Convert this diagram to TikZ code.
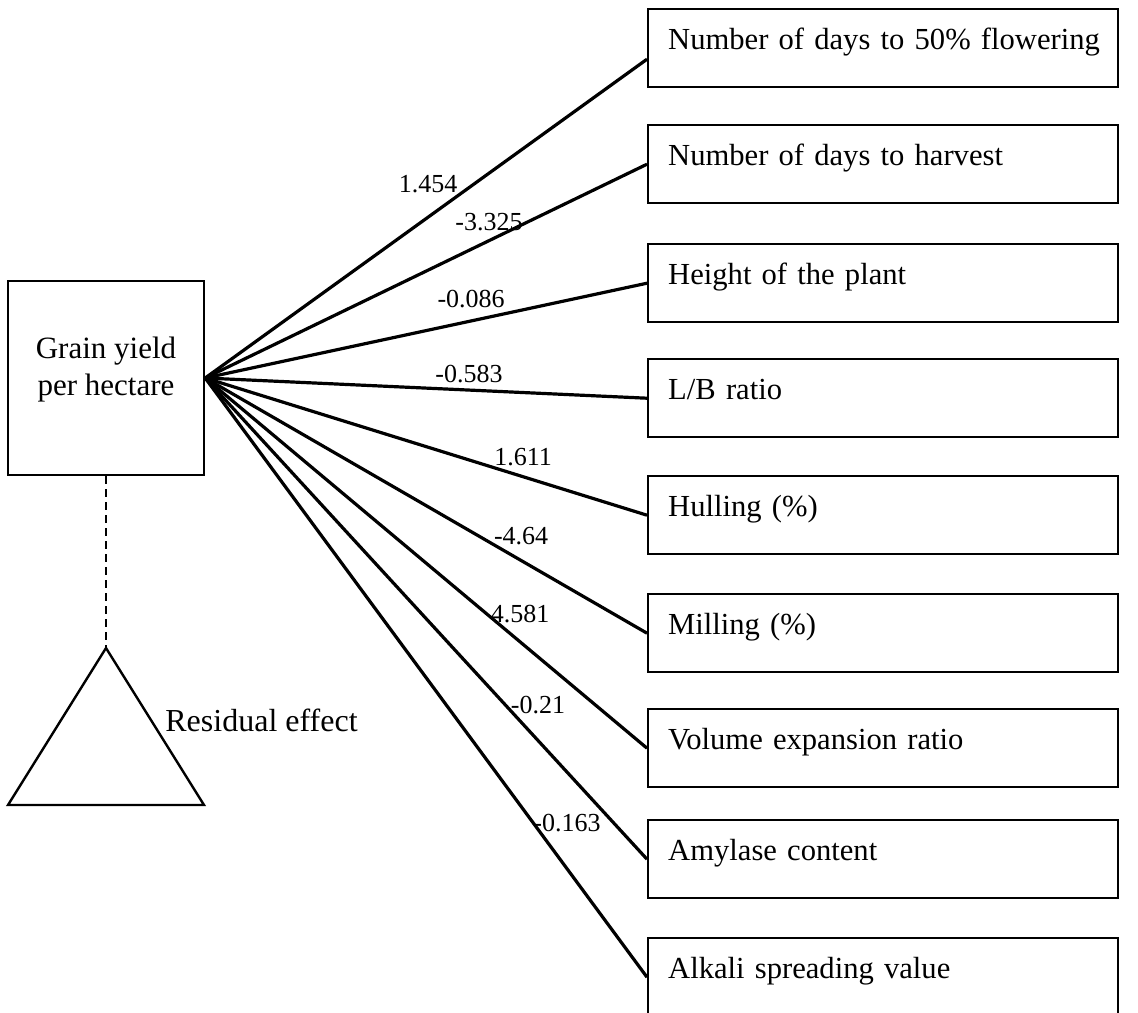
\documentclass[tikz,border=0pt]{standalone}
\usepackage{fontspec}
\setmainfont{Liberation Serif}
\begin{document}
\begin{tikzpicture}[x=0.5pt,y=-0.5pt,
  rbox/.style={draw, line width=1.2pt, anchor=north west, minimum height=39pt,
    text width=215pt, align=left, inner xsep=10pt, inner ysep=0pt,
    text height=10pt, text depth=9pt, font=\fontsize{15.3}{18.5}\selectfont},
  conn/.style={line width=1.6pt},
  lbl/.style={inner sep=0pt, font=\fontsize{13}{15}\selectfont}
]
\useasboundingbox (0,0) rectangle (1138,1012);
% left box
\node[draw, line width=1.2pt, minimum width=98pt, minimum height=97pt, inner sep=0pt,
  align=center, text height=20.5pt, text depth=3.5pt, font=\fontsize{15.5}{18.5}\selectfont]
  (g) at (106,378) {Grain yield\\per hectare};
% right boxes
\node[rbox] (b1) at (647,8) {\mbox{Number of days to 50\% flowering}};
\node[rbox] (b2) at (647,124) {\mbox{Number of days to harvest}};
\node[rbox] (b3) at (647,243) {\mbox{Height of the plant}};
\node[rbox] (b4) at (647,358) {\mbox{L/B ratio}};
\node[rbox] (b5) at (647,475) {\mbox{Hulling (\%)}};
\node[rbox] (b6) at (647,593) {\mbox{Milling (\%)}};
\node[rbox] (b7) at (647,708) {\mbox{Volume expansion ratio}};
\node[rbox] (b8) at (647,819) {\mbox{Amylase content}};
\node[rbox] (b9) at (647,937) {\mbox{Alkali spreading value}};
% connectors
\draw[conn] (g.east) -- node[lbl, pos=0.5045, yshift=16.5pt] (l1) {1.454} ([yshift=-5.5pt]b1.west);
\draw[conn] (g.east) -- node[lbl, pos=0.6425, yshift=9.25pt] (l2) {-3.325} (b2.west);
\draw[conn] (g.east) -- node[lbl, pos=0.6018, yshift=10.9pt] (l3) {-0.086} (b3.west);
\draw[conn] (g.east) -- node[lbl, pos=0.597, yshift=8pt] (l4) {-0.583} (b4.west);
\draw[conn] (g.east) -- node[lbl, pos=0.7195, yshift=10pt] (l5) {1.611} (b5.west);
\draw[conn] (g.east) -- node[lbl, pos=0.715, yshift=12.2pt] (l6) {-4.64} (b6.west);
\draw[conn] (g.east) -- node[lbl, pos=0.7127, yshift=14pt] (l7) {4.581} (b7.west);
\draw[conn] (g.east) -- node[lbl, pos=0.7534, yshift=17.7pt] (l8) {-0.21} (b8.west);
\draw[conn] (g.east) -- node[lbl, pos=0.819, yshift=23pt] (l9) {-0.163} (b9.west);
% residual
\coordinate (apex) at (106,648);
\coordinate (bl) at (8,805);
\coordinate (br) at (204,805);
\draw[line width=1.2pt, dash pattern=on 4pt off 2.5pt] (g.south) -- (apex);
\draw[line width=1.2pt, line join=miter] (apex) -- (bl) -- (br) -- cycle;
\node[anchor=west, inner sep=0pt, font=\fontsize{16}{19}\selectfont] (res) at (165,720) {Residual effect};
\end{tikzpicture}
\end{document}
